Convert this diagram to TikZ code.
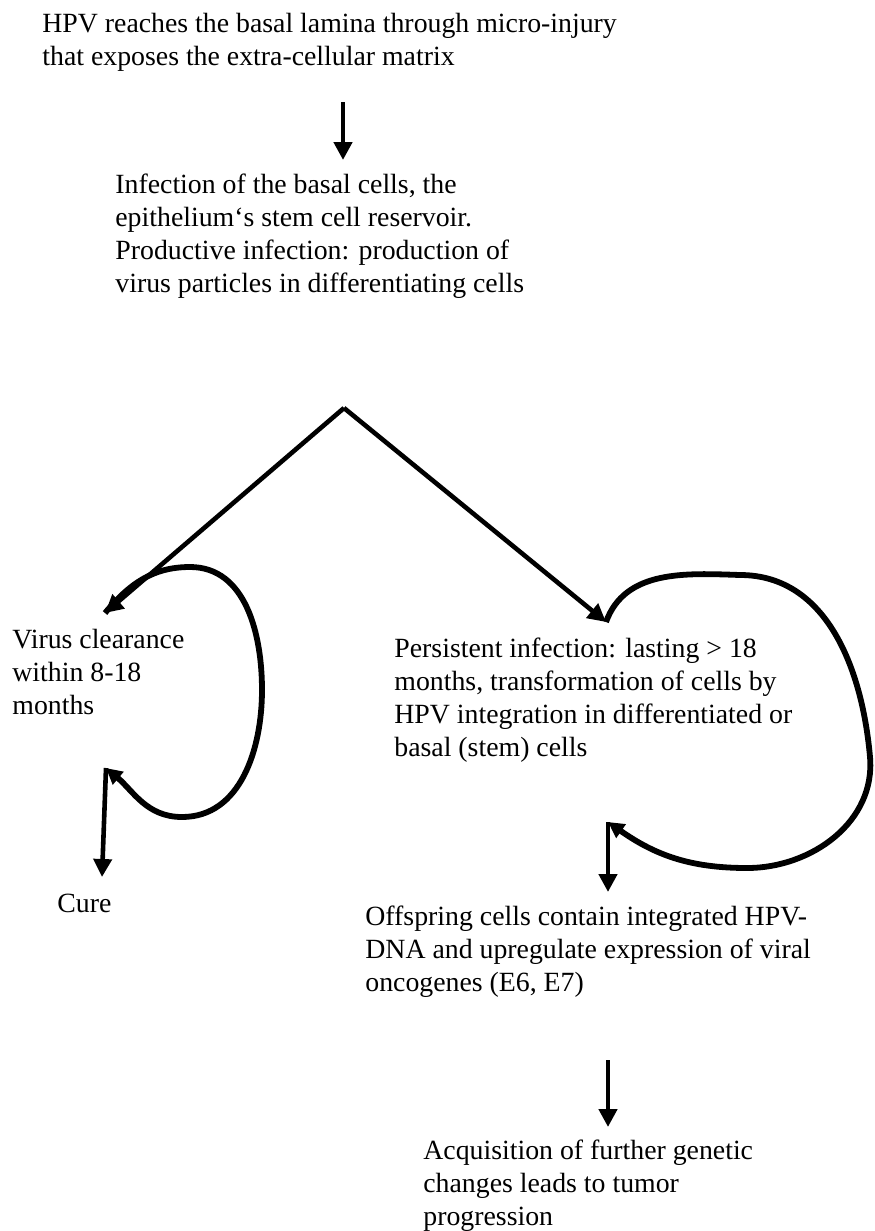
\documentclass[tikz,border=0pt]{standalone}
\usepackage{fontspec}
\setmainfont{Liberation Serif}
\usetikzlibrary{arrows.meta}
\begin{document}
\begin{tikzpicture}[x=0.5pt,y=0.5pt,>={Triangle[length=9pt,width=9pt]},
  txt/.style={anchor=north west,inner sep=0pt,align=left,font=\fontsize{13.9}{16.5}\selectfont},
  flow/.style={->,line width=2.3pt},
  loopline/.style={->,line width=2.9pt,>={Triangle[length=8pt,width=8pt]}}]
\useasboundingbox (0,0) rectangle (874,-1231);
\node[txt] (hpv) at (42,-13) {HPV reaches the basal lamina through micro-injury\\that exposes the extra-cellular matrix};
\node[txt] (inf) at (115,-174) {Infection of the basal cells, the\\epithelium‘s stem cell reservoir.\\Productive infection: production of\\virus particles in differentiating cells};
\node[txt] (clr) at (12,-629) {Virus clearance\\within 8-18\\months};
\node[txt] (per) at (394,-638) {Persistent infection: lasting > 18\\months, transformation of cells by\\HPV integration in differentiated or\\basal (stem) cells};
\node[txt] (cure) at (57,-894) {Cure};
\node[txt] (off) at (365,-906) {Offspring cells contain integrated HPV-\\DNA and upregulate expression of viral\\oncogenes (E6, E7)};
\node[txt] (acq) at (423,-1140) {Acquisition of further genetic\\changes leads to tumor\\progression};

\coordinate (top) at (343,-102);
\coordinate (toptip) at (343,-160);
\coordinate (fork) at (344,-408);
\coordinate (clrtip) at (105,-613);
\coordinate (pertip) at (606,-622);
\coordinate (clrback) at (106,-768);
\coordinate (curetip) at (102,-877);
\coordinate (perback) at (608,-822);
\coordinate (offtip) at (608,-892);
\coordinate (low) at (608,-1060);
\coordinate (lowtip) at (608,-1127);

\draw[flow] (top) -- (toptip);
\draw[flow] (fork) -- (clrtip);
\draw[flow] (fork) -- (pertip);
\draw[loopline] (clrtip) to[out=50,in=180] (190,-567) to[out=0,in=90] (262,-690) to[out=-90,in=0] (182,-817) to[out=180,in=-40] (clrback);
\draw[flow] (clrback) -- (curetip);
\draw[loopline] (pertip) to[out=70,in=178] (740,-575) to[out=0,in=95] (870,-757) to[out=-85,in=0] (747,-868) to[out=180,in=-35] (perback);
\draw[flow] (perback) -- (offtip);
\draw[flow] (low) -- (lowtip);
\end{tikzpicture}
\end{document}
